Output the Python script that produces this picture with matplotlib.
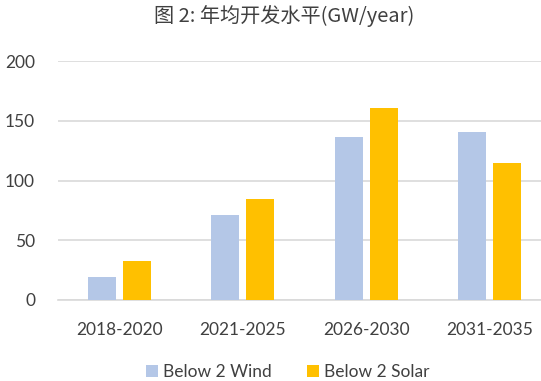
import matplotlib
matplotlib.use("Agg")
import matplotlib.pyplot as plt
import numpy as np

categories = ["2018-2020", "2021-2025", "2026-2030", "2031-2035"]
wind = [19.5, 71, 136, 141]
solar = [33, 84.5, 160.5, 115]
yticks = [0, 50, 100, 150, 200]

plt.rcParams['font.family'] = ['Lato', 'Noto Sans CJK SC', 'DejaVu Sans']

W, H = 541, 381
fig = plt.figure(figsize=(W / 100, H / 100), dpi=100)
# axes area: x 58..541 px, y 61..300 px
ax = fig.add_axes([58 / W, 81 / H, (541 - 58) / W, 239 / H])

x = np.arange(len(categories))
bw = 0.228
off = 0.142
ax.bar(x - off, wind, bw, color='#b4c7e7', label='Below 2 Wind', zorder=3)
ax.bar(x + off, solar, bw, color='#ffc000', label='Below 2 Solar', zorder=3)

ax.set_xlim(-0.5, 3.5 - 10 / 123)
ax.set_ylim(0, 200)
ax.set_yticks(yticks)
ax.set_xticks(x)
ax.set_xticklabels(categories)
ax.yaxis.grid(True, color='#d9d9d9', linewidth=1.2, zorder=0)
ax.tick_params(axis='both', length=0, labelsize=12.5, colors='#404040')
ax.tick_params(axis='x', pad=16)
ax.tick_params(axis='y', pad=16.5)
for s in ['top', 'right', 'left']:
    ax.spines[s].set_visible(False)
ax.spines['bottom'].set_color('#d9d9d9')
ax.spines['bottom'].set_linewidth(1.2)

fig.text(0.525, 1 - 16 / H, "图 2: 年均开发水平(GW/year)", ha='center', va='center',
         fontsize=14.5, color='#404040',
         family=['Noto Sans CJK SC', 'DejaVu Sans'])

fig.legend(loc='center', bbox_to_anchor=(0.532, 1 - 372 / H), ncol=2, frameon=False,
           fontsize=12.5, handlelength=0.7, handleheight=0.7, columnspacing=2.0,
           handletextpad=0.3, labelcolor='#404040')

fig.savefig("out.png", dpi=100)
